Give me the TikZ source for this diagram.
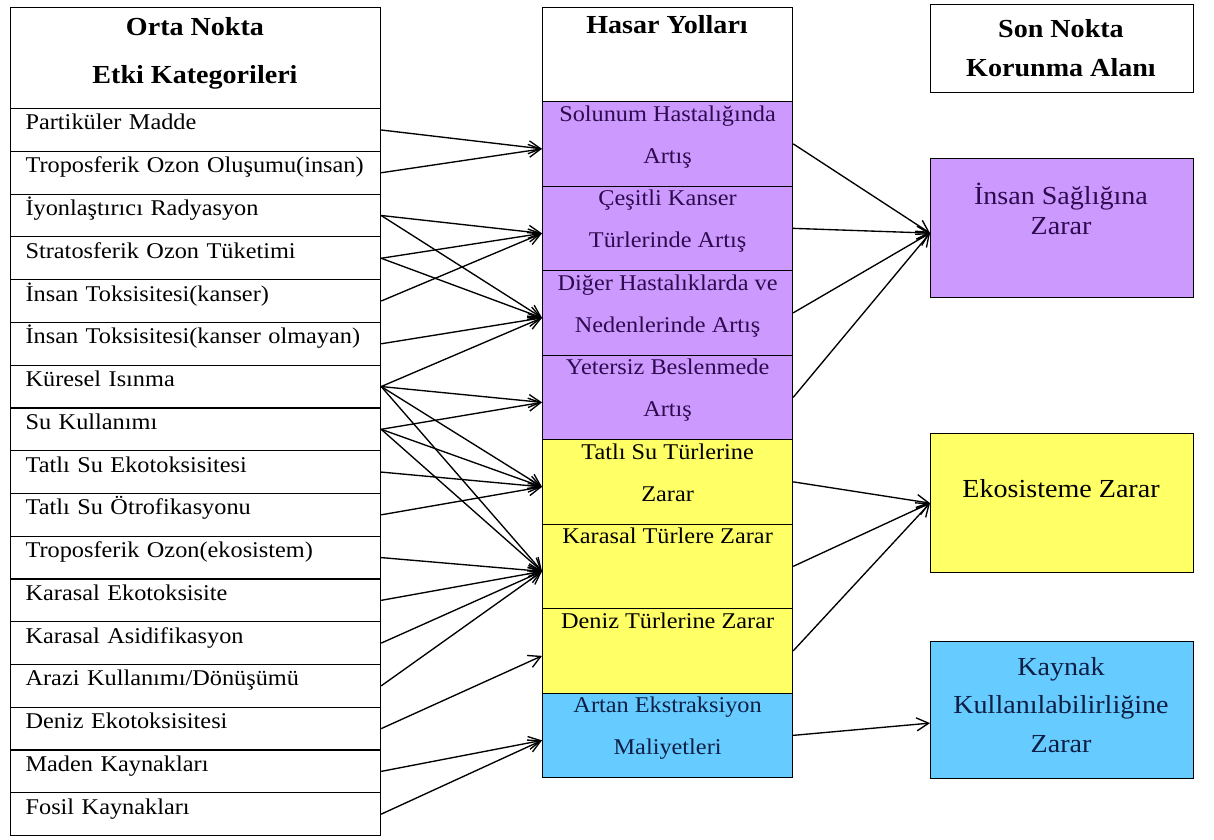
\documentclass[tikz,border=0pt]{standalone}
\usepackage{fontspec}
\setmainfont{Liberation Serif}[FakeStretch=1.08]
\usetikzlibrary{arrows.meta}
\definecolor{lilac}{RGB}{204,153,255}
\definecolor{lemon}{RGB}{255,255,102}
\definecolor{sky}{RGB}{102,204,255}
\definecolor{plum}{RGB}{46,10,78}
\definecolor{inkblue}{RGB}{14,30,68}
\begin{document}
\begin{tikzpicture}[x=1pt,y=-1pt,
  frame/.style={draw=black, line width=1.2pt, inner sep=0pt, anchor=north west},
  leftrow/.style={frame, minimum width=370pt, minimum height=42.76pt,
    text width=340pt, inner xsep=15pt, align=left,
    text height=8pt, text depth=8pt, font=\fontsize{22.5}{27}\selectfont},
  midbox/.style={frame, minimum width=250pt, minimum height=84.5pt},
  sidebox/.style={frame, minimum width=263pt},
  headtxt/.style={anchor=base, inner sep=0pt, font=\bfseries\fontsize{26}{30}\selectfont},
  midtxt/.style={anchor=base, inner sep=0pt, font=\fontsize{22.5}{27}\selectfont},
  sidetxt/.style={anchor=base, inner sep=0pt, font=\fontsize{26}{30}\selectfont},
  arr/.style={line width=1.35pt, -{Straight Barb[length=12pt,width=13pt,line width=1.35pt]}}
]
\fill[white] (0,0) rectangle (1214,839);
\useasboundingbox (0,0) rectangle (1214,839);

% ---------- left column: midpoint impact categories ----------
\node[frame, minimum width=370pt, minimum height=101pt] (lhead) at (10,7) {};
\node[headtxt] (lhead1) at (195,35) {Orta Nokta};
\node[headtxt] (lhead2) at (195,83) {Etki Kategorileri};

\foreach \i/\t in {1/{Partiküler Madde},
                   2/{Troposferik Ozon Oluşumu(insan)},
                   3/{İyonlaştırıcı Radyasyon},
                   4/{Stratosferik Ozon Tüketimi},
                   5/{İnsan Toksisitesi(kanser)},
                   6/{İnsan Toksisitesi(kanser olmayan)},
                   7/{Küresel Isınma},
                   8/{Su Kullanımı},
                   9/{Tatlı Su Ekotoksisitesi},
                   10/{Tatlı Su Ötrofikasyonu},
                   11/{Troposferik Ozon(ekosistem)},
                   12/{Karasal Ekotoksisite},
                   13/{Karasal Asidifikasyon},
                   14/{Arazi Kullanımı/Dönüşümü},
                   15/{Deniz Ekotoksisitesi},
                   16/{Maden Kaynakları},
                   17/{Fosil Kaynakları}}
  \node[leftrow] (r\i) at (10,{108+42.76*(\i-1)}) {\t};

% ---------- middle column: damage pathways ----------
\node[frame, minimum width=250pt, minimum height=94pt] (mhead) at (542,7) {};
\node[headtxt] (mhead1) at (667,33) {Hasar Yolları};

\node[midbox, fill=lilac] (m1) at (542,101.0) {};
\node[midbox, fill=lilac] (m2) at (542,185.5) {};
\node[midbox, fill=lilac] (m3) at (542,270.0) {};
\node[midbox, fill=lilac] (m4) at (542,354.5) {};
\node[midbox, fill=lemon] (m5) at (542,439.0) {};
\node[midbox, fill=lemon] (m6) at (542,523.5) {};
\node[midbox, fill=lemon] (m7) at (542,608.0) {};
\node[midbox, fill=sky]   (m8) at (542,692.5) {};

\begin{scope}[every node/.style={midtxt}]
\node[text=plum] (m1a) at ([yshift=-20pt]m1.north) {Solunum Hastalığında};
\node[text=plum] (m1b) at ([yshift=-62pt]m1.north) {Artış};
\node[text=plum] (m2a) at ([yshift=-20pt]m2.north) {Çeşitli Kanser};
\node[text=plum] (m2b) at ([yshift=-62pt]m2.north) {Türlerinde Artış};
\node[text=plum] (m3a) at ([yshift=-20pt]m3.north) {Diğer Hastalıklarda ve};
\node[text=plum] (m3b) at ([yshift=-62pt]m3.north) {Nedenlerinde Artış};
\node[text=plum] (m4a) at ([yshift=-20pt]m4.north) {Yetersiz Beslenmede};
\node[text=plum] (m4b) at ([yshift=-62pt]m4.north) {Artış};
\node (m5a) at ([yshift=-20pt]m5.north) {Tatlı Su Türlerine};
\node (m5b) at ([yshift=-62pt]m5.north) {Zarar};
\node (m6a) at ([yshift=-20pt]m6.north) {Karasal Türlere Zarar};
\node (m7a) at ([yshift=-20pt]m7.north) {Deniz Türlerine Zarar};
\node[text=inkblue] (m8a) at ([yshift=-20pt]m8.north) {Artan Ekstraksiyon};
\node[text=inkblue] (m8b) at ([yshift=-62pt]m8.north) {Maliyetleri};
\end{scope}

% ---------- right column: endpoint areas of protection ----------
\node[sidebox, minimum height=88pt] (rhead) at (930,4) {};
\node[headtxt] (rhead1) at (1061,37) {Son Nokta};
\node[headtxt] (rhead2) at (1061,76) {Korunma Alanı};

\node[sidebox, minimum height=139pt, fill=lilac] (hh) at (930,158) {};
\node[sidetxt, text=plum] (hh1) at (1061,204) {İnsan Sağlığına};
\node[sidetxt, text=plum] (hh2) at (1061,234) {Zarar};

\node[sidebox, minimum height=139pt, fill=lemon] (eco) at (930,433) {};
\node[sidetxt] (eco1) at (1061,497) {Ekosisteme Zarar};

\node[sidebox, minimum height=137pt, fill=sky] (res) at (930,641) {};
\node[sidetxt, text=inkblue] (res1) at (1061,675) {Kaynak};
\node[sidetxt, text=inkblue] (res2) at (1061,713) {Kullanılabilirliğine};
\node[sidetxt, text=inkblue] (res3) at (1061,752) {Zarar};

% arrow entry points on the pathway and endpoint boxes
\foreach \k in {1,...,8}
  \coordinate (in\k) at ([yshift=-5pt]m\k.west);
\coordinate (hhin)  at ([yshift=-5pt]hh.west);
\coordinate (ecoin) at (eco.west);
\coordinate (resin) at ([yshift=-13pt]res.west);

% ---------- connectors: categories to pathways ----------
\foreach \a/\b in {1/1, 2/1,
                   3/2, 3/3, 4/2, 4/3, 5/2, 6/3,
                   7/3, 7/4, 7/5, 7/6,
                   8/4, 8/5, 8/6,
                   9/5, 10/5,
                   11/6, 12/6, 13/6, 14/6,
                   15/7, 16/8, 17/8}
  \draw[arr] (r\a.east) -- (in\b);

% ---------- connectors: pathways to endpoints ----------
\foreach \k in {1,...,4}
  \draw[arr] (m\k.east) -- (hhin);
\foreach \k in {5,6,7}
  \draw[arr] (m\k.east) -- (ecoin);
\draw[arr] (m8.east) -- (resin);

\end{tikzpicture}
\end{document}
